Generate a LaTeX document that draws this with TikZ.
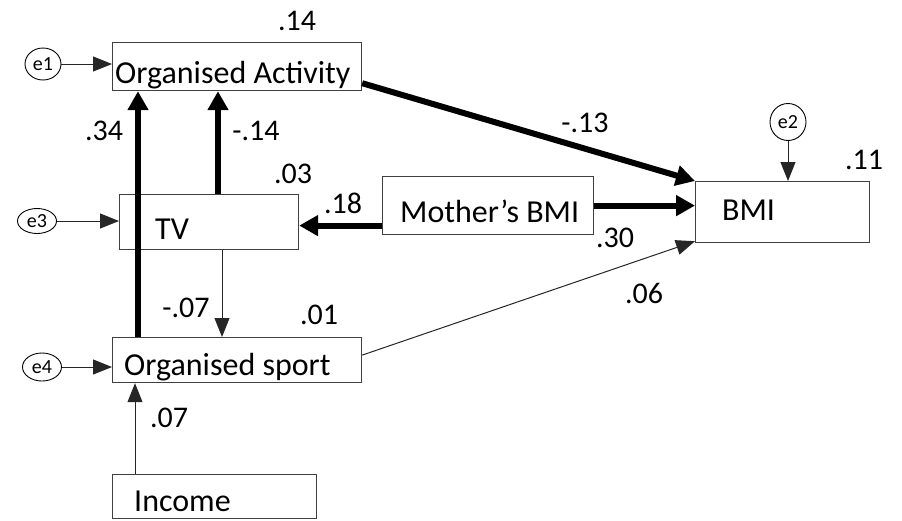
\documentclass[tikz,border=0pt]{standalone}
\usepackage{fontspec}
\setmainfont{Carlito}
\usetikzlibrary{arrows.meta, shapes.geometric, calc}
\colorlet{box-color}{black!75}
\colorlet{link-color}{black!85}
\tikzset{
    var/.style = {draw=box-color, line width=1.2pt, rectangle, inner sep=0pt, anchor=north west},
    var-text/.style = {font=\fontsize{32}{37}\selectfont, inner sep=0pt, anchor=base west},
    err/.style = {draw, ellipse, line width=0.9pt, inner sep=0pt, font=\fontsize{20}{23}\selectfont},
    coef/.style = {font=\fontsize{30}{34}\selectfont, inner sep=0pt},
    strong/.style = {line width=6pt, -{Triangle[length=19pt,width=20pt]}},
    weak/.style = {draw=link-color, line width=1pt, -{Triangle[length=19pt,width=15pt]}},
}

\begin{document}
\begin{tikzpicture}[x=1pt,y=-1pt]
\useasboundingbox (0,0) rectangle (902,520);

% observed variables
\node[var, minimum width=249pt, minimum height=48pt] (oa)   at (112,42)  {};
\node[var, minimum width=179pt, minimum height=55pt] (tv)   at (119,194) {};
\node[var, minimum width=211pt, minimum height=58pt] (mbmi) at (382,176) {};
\node[var, minimum width=174pt, minimum height=61pt] (bmi)  at (695,181) {};
\node[var, minimum width=249pt, minimum height=45pt] (os)   at (112,337) {};
\node[var, minimum width=204pt, minimum height=44pt] (inc)  at (112,474) {};

\node[var-text] (oa-t)   at (115,83)  {Organised Activity};
\node[var-text] (tv-t)   at (155,239) {TV};
\node[var-text] (mbmi-t) at (400,222) {Mother’s BMI};
\node[var-text] (bmi-t)  at (722,220) {BMI};
\node[var-text] (os-t)   at (124,375) {Organised sport};
\node[var-text] (inc-t)  at (134,511) {Income};

% error terms
\node[err, minimum width=36pt, minimum height=32pt] (e1) at (43,64)   {e1};
\node[err, minimum width=36pt, minimum height=37pt] (e2) at (788,122) {e2};
\node[err, minimum width=39pt, minimum height=25pt] (e3) at (37,221)  {e3};
\node[err, minimum width=39pt, minimum height=28pt] (e4) at (42,367)  {e4};

\draw[weak] (e1.east) -- (e1.east -| oa.west);
\draw[weak] (e3.east) -- (e3.east -| tv.west);
\draw[weak] (e4.east) -- (e4.east -| os.west);
\draw[weak] (e2.south) -- (e2.south |- bmi.north);

% paths
\coordinate (os-up)    at ([xshift=26pt]os.north west);
\coordinate (tv-up)    at ([xshift=99pt]tv.north west);
\coordinate (tv-down)  at ([xshift=103pt]tv.south west);
\coordinate (inc-up)   at ([xshift=23pt]inc.north west);
\coordinate (oa-out)   at ([yshift=8pt]oa.south east);
\coordinate (mbmi-out) at ([yshift=-20pt]mbmi.west);
\coordinate (os-out)   at ([yshift=5pt]os.east);
\coordinate (bmi-in)   at ([yshift=2pt]bmi.south west);

\draw[strong] (os-up) -- (os-up |- oa.south);
\draw[strong] (tv-up) -- (tv-up |- oa.south);
\draw[strong] (oa-out) -- (bmi.north west);
\draw[strong] (mbmi.east) -- (mbmi.east -| bmi.west);
\draw[strong] (mbmi-out) -- (mbmi-out -| tv.east);
\draw[weak] (tv-down) -- (tv-down |- os.north);
\draw[weak] (inc-up) -- (inc-up |- os.south);
\draw[weak] (os-out) -- (bmi-in);

% coefficients
\node[coef] (r-oa)   at (297,21)  {.14};
\node[coef] (r-tv)   at (293,174) {.03};
\node[coef] (r-bmi)  at (864,160) {.11};
\node[coef] (r-os)   at (319,315) {.01};
\node[coef] (c-osoa) at (104,131) {.34};
\node[coef] (c-tvoa) at (256,131) {-.14};
\node[coef] (c-mtv)  at (343,203) {.18};
\node[coef] (c-oab)  at (585,123) {-.13};
\node[coef] (c-mb)   at (615,238) {.30};
\node[coef] (c-osb)  at (644,293) {.06};
\node[coef] (c-tvos) at (186,308) {-.07};
\node[coef] (c-inc)  at (169,418) {.07};

\end{tikzpicture}
\end{document}
